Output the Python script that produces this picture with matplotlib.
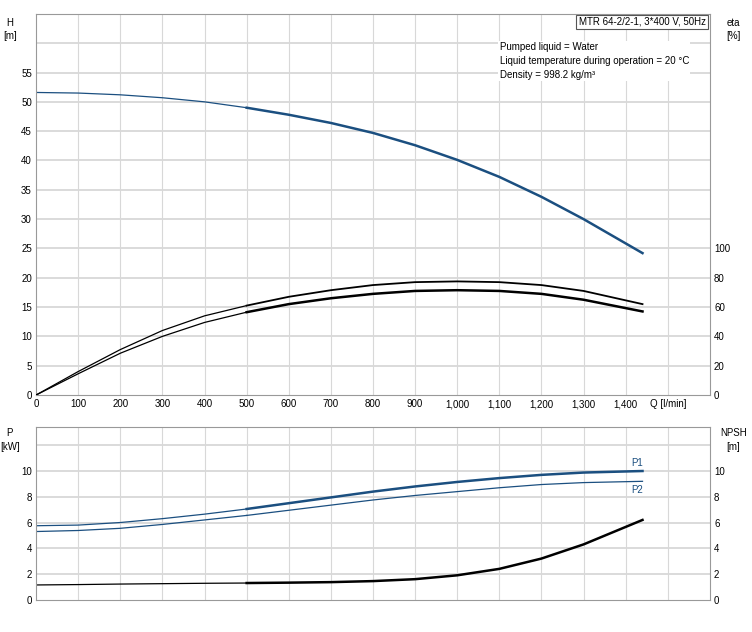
import matplotlib
matplotlib.use("Agg")
import matplotlib.pyplot as plt

plt.rcParams["font.family"] = ["Liberation Sans", "DejaVu Sans"]
plt.rcParams["font.size"] = 7

BLUE = "#1b4f80"
GRID = "#d8d8d8"

q = [0, 100, 200, 300, 400, 500, 600, 700, 800, 900, 1000, 1100, 1200, 1300, 1440]
head = [51.6, 51.5, 51.2, 50.7, 50.0, 49.0, 47.8, 46.4, 44.7, 42.6, 40.1, 37.2, 33.8, 30.0, 24.2]
eta_upper = [0, 16, 31, 44, 54, 61, 67, 71.5, 75, 77, 77.5, 77, 75, 71, 62]
eta_lower = [0, 14.5, 28.5, 40, 49.5, 56.5, 62, 66, 69, 71, 71.5, 71, 69, 65, 57]
p1 = [5.75, 5.8, 6.0, 6.3, 6.65, 7.05, 7.5, 7.95, 8.4, 8.8, 9.15, 9.45, 9.7, 9.88, 10.0]
p2 = [5.3, 5.38, 5.55, 5.85, 6.2, 6.55, 6.95, 7.35, 7.75, 8.1, 8.4, 8.7, 8.95, 9.1, 9.2]
npsh = [1.15, 1.18, 1.22, 1.25, 1.28, 1.3, 1.33, 1.37, 1.45, 1.6, 1.9, 2.4, 3.2, 4.3, 6.2]

q_ticks = list(range(0, 1500, 100))
q_labels = ["0", "100", "200", "300", "400", "500", "600", "700", "800", "900",
            "1,000", "1,100", "1,200", "1,300", "1,400"]
SPLIT = 5  # index where duty range (thick line) starts

fig = plt.figure(figsize=(7.52, 6.32), dpi=100)
ax1 = fig.add_axes([0.048, 0.375, 0.896, 0.603])
ax2 = fig.add_axes([0.048, 0.051, 0.896, 0.273])


def style(ax, ymax, grid_ys):
    ax.set_xlim(0, 1600)
    ax.set_ylim(0, ymax)
    for x in range(100, 1600, 100):
        ax.axvline(x, color=GRID, lw=0.8, zorder=0)
    for y in grid_ys:
        ax.axhline(y, color=GRID, lw=1.3, zorder=0)
    for s in ax.spines.values():
        s.set_color("#999999")
    ax.tick_params(length=0, labelsize=7, colors="black", pad=3)


def curve(ax, y, color, thick=1.8):
    ax.plot(q[:SPLIT + 1], y[:SPLIT + 1], color=color, lw=0.9)
    ax.plot(q[SPLIT:], y[SPLIT:], color=color, lw=thick)


def twin(ax, ymax, ticks):
    t = ax.twinx()
    t.set_ylim(0, ymax)
    t.set_yticks(ticks)
    t.tick_params(length=0, labelsize=7, pad=3)
    for s in t.spines.values():
        s.set_visible(False)
    return t


# top: head + efficiency
style(ax1, 65, range(5, 65, 5))
ax1.set_xticks(q_ticks + [1500])
ax1.set_xticklabels(q_labels + ["Q [l/min]"])
ax1.set_yticks(range(0, 60, 5))
curve(ax1, head, BLUE)
eta = twin(ax1, 260, range(0, 120, 20))
curve(eta, eta_upper, "black", thick=1.3)
curve(eta, eta_lower, "black")
fig.text(0.013, 0.972, "H\n[m]", ha="center", va="top", fontsize=7, linespacing=1.4)
fig.text(0.975, 0.972, "eta\n[%]", ha="center", va="top", fontsize=7, linespacing=1.4)
ax1.text(0.994, 0.992, "MTR 64-2/2-1, 3*400 V, 50Hz", transform=ax1.transAxes,
         ha="right", va="top", fontsize=7,
         bbox=dict(boxstyle="square,pad=0.25", fc="white", ec="#555555", lw=0.8))
ax1.text(0.688, 0.925, "Pumped liquid = Water\nLiquid temperature during operation = 20 °C\n"
         "Density = 998.2 kg/m³", transform=ax1.transAxes, ha="left", va="top",
         fontsize=7, linespacing=1.45, bbox=dict(fc="white", ec="none", pad=1))

# bottom: power + NPSH
style(ax2, 13.4, [2, 4, 6, 8, 10, 12])
ax2.set_xticks([])
ax2.set_yticks(range(0, 12, 2))
curve(ax2, p1, BLUE)
curve(ax2, p2, BLUE, thick=0.9)
curve(ax2, npsh, "black")
twin(ax2, 13.4, range(0, 12, 2))
ax2.text(1440, p1[-1] + 0.25, "P1", color=BLUE, ha="right", va="bottom", fontsize=7)
ax2.text(1440, p2[-1] - 0.25, "P2", color=BLUE, ha="right", va="top", fontsize=7)
fig.text(0.013, 0.322, "P\n[kW]", ha="center", va="top", fontsize=7, linespacing=1.4)
fig.text(0.975, 0.322, "NPSH\n[m]", ha="center", va="top", fontsize=7, linespacing=1.4)

fig.savefig("out.png", dpi=100)
